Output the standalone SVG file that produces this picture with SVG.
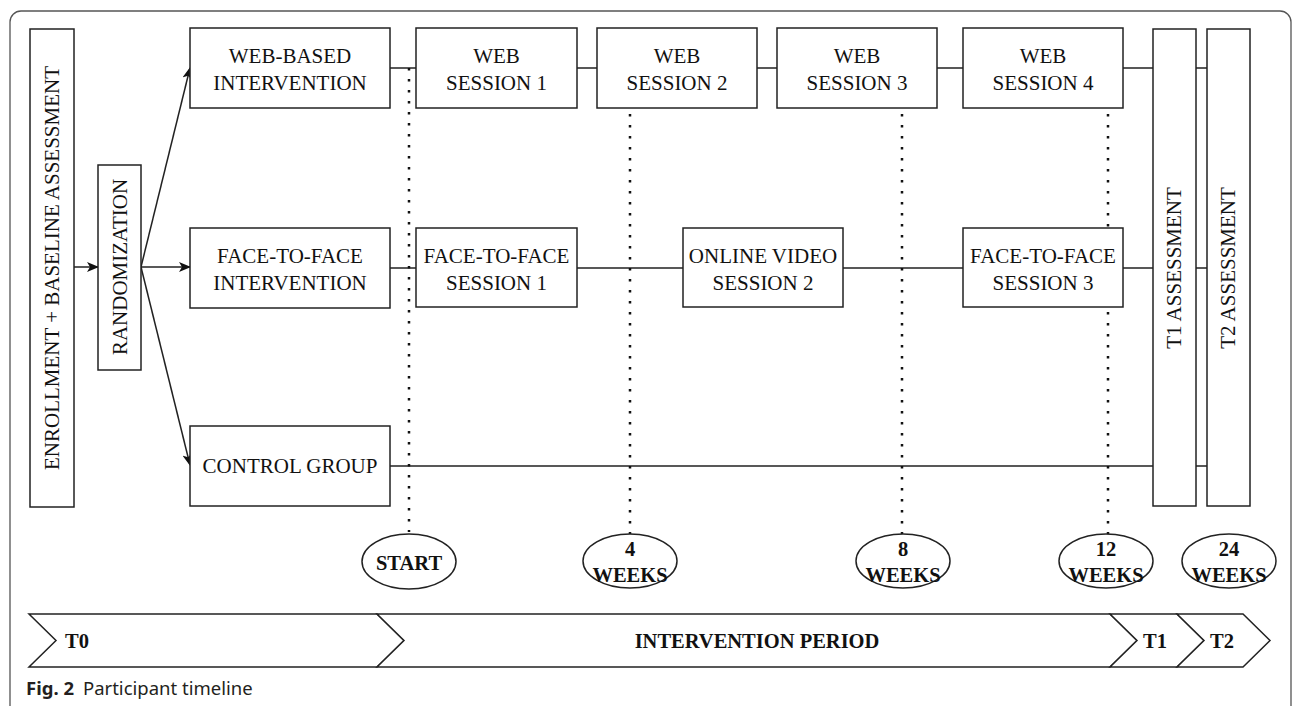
<svg xmlns="http://www.w3.org/2000/svg" width="1292" height="706" viewBox="0 0 1292 706">
<style>
.box{fill:#fff;stroke:#222;stroke-width:1.5}
.ln{fill:none;stroke:#222;stroke-width:1.5}
.dot{fill:none;stroke:#111;stroke-width:2.5;stroke-dasharray:2.5 8.5}
.t{font-family:"Liberation Serif","Times New Roman",serif;font-size:21px;fill:#111;text-anchor:middle}
.b{font-family:"Liberation Serif","Times New Roman",serif;font-size:20.5px;font-weight:bold;fill:#111;text-anchor:middle}
.cap{font-family:"Noto Sans","Open Sans",sans-serif;font-size:18.5px;fill:#231f20}
</style>
<defs>
<marker id="ah" markerWidth="12" markerHeight="10" refX="11" refY="5" orient="auto" markerUnits="userSpaceOnUse">
<path d="M0,0 L12,5 L0,10 L3,5 z" fill="#111"/>
</marker>
</defs>
<rect x="10" y="11" width="1281" height="710" rx="11" fill="#fff" stroke="#555" stroke-width="1.3"/>
<g id="connectors">
<line class="ln" x1="74" y1="267" x2="98" y2="267" marker-end="url(#ah)"/>
<line class="ln" x1="141" y1="267" x2="190" y2="68" marker-end="url(#ah)"/>
<line class="ln" x1="141" y1="267" x2="190" y2="267" marker-end="url(#ah)"/>
<line class="ln" x1="141" y1="267" x2="190" y2="465" marker-end="url(#ah)"/>
<path class="ln" d="M390,68H416M577,68H597M757,68H777M937,68H963M1123,68H1153M1196,68H1207"/>
<path class="ln" d="M390,268H416M577,268H683M843,268H963M1123,268H1153M1196,268H1207"/>
<path class="ln" d="M390,466H1153M1196,466H1207"/>
<line class="dot" x1="409" y1="68" x2="409" y2="532"/>
<line class="dot" x1="630" y1="114" x2="630" y2="534"/>
<line class="dot" x1="902" y1="114" x2="902" y2="534"/>
<line class="dot" x1="1108" y1="114" x2="1108" y2="534"/>
</g>
<g id="enrollment"><rect class="box" x="30" y="29" width="44" height="478"/><text class="t" transform="translate(59,268) rotate(-90)">ENROLLMENT + BASELINE ASSESSMENT</text></g>
<g id="randomization"><rect class="box" x="98" y="165" width="43" height="205"/><text class="t" transform="translate(127,267) rotate(-90)">RANDOMIZATION</text></g>
<g id="web-based"><rect class="box" x="190" y="28" width="200" height="80"/><text class="t" x="290" y="63">WEB-BASED</text><text class="t" x="290" y="90">INTERVENTION</text></g>
<g id="ftf-intervention"><rect class="box" x="190" y="228" width="200" height="80"/><text class="t" x="290" y="263">FACE-TO-FACE</text><text class="t" x="290" y="290">INTERVENTION</text></g>
<g id="control"><rect class="box" x="190" y="426" width="200" height="80"/><text class="t" x="290" y="473">CONTROL GROUP</text></g>
<g id="web1"><rect class="box" x="416" y="28" width="161" height="80"/><text class="t" x="496.5" y="63">WEB</text><text class="t" x="496.5" y="90">SESSION 1</text></g>
<g id="web2"><rect class="box" x="597" y="28" width="160" height="80"/><text class="t" x="677" y="63">WEB</text><text class="t" x="677" y="90">SESSION 2</text></g>
<g id="web3"><rect class="box" x="777" y="28" width="160" height="80"/><text class="t" x="857" y="63">WEB</text><text class="t" x="857" y="90">SESSION 3</text></g>
<g id="web4"><rect class="box" x="963" y="28" width="160" height="80"/><text class="t" x="1043" y="63">WEB</text><text class="t" x="1043" y="90">SESSION 4</text></g>
<g id="ftf1"><rect class="box" x="416" y="228" width="161" height="79"/><text class="t" x="496.5" y="263">FACE-TO-FACE</text><text class="t" x="496.5" y="290">SESSION 1</text></g>
<g id="video2"><rect class="box" x="683" y="228" width="160" height="79"/><text class="t" x="763" y="263">ONLINE VIDEO</text><text class="t" x="763" y="290">SESSION 2</text></g>
<g id="ftf3"><rect class="box" x="963" y="228" width="160" height="79"/><text class="t" x="1043" y="263">FACE-TO-FACE</text><text class="t" x="1043" y="290">SESSION 3</text></g>
<g id="t1-assessment"><rect class="box" x="1153" y="29" width="43" height="477"/><text class="t" transform="translate(1181,268) rotate(-90)">T1 ASSESSMENT</text></g>
<g id="t2-assessment"><rect class="box" x="1207" y="29" width="43" height="477"/><text class="t" transform="translate(1235,268) rotate(-90)">T2 ASSESSMENT</text></g>
<g id="start"><ellipse class="box" cx="409" cy="561.5" rx="47" ry="27.5"/><text class="b" x="409" y="570">START</text></g>
<g id="w4"><ellipse class="box" cx="630" cy="561" rx="47" ry="27"/><text class="b" x="630" y="556">4</text><text class="b" x="630" y="582">WEEKS</text></g>
<g id="w8"><ellipse class="box" cx="903" cy="561" rx="47" ry="27"/><text class="b" x="903" y="556">8</text><text class="b" x="903" y="582">WEEKS</text></g>
<g id="w12"><ellipse class="box" cx="1106" cy="561" rx="47" ry="27"/><text class="b" x="1106" y="556">12</text><text class="b" x="1106" y="582">WEEKS</text></g>
<g id="w24"><ellipse class="box" cx="1229" cy="561" rx="47" ry="27"/><text class="b" x="1229" y="556">24</text><text class="b" x="1229" y="582">WEEKS</text></g>
<g id="band-t0"><polygon class="box" points="29,614 377,614 404,640.5 377,667 29,667 56,640.5"/><text class="b" x="77" y="648">T0</text></g>
<g id="band-intervention"><polygon class="box" points="377,614 1110,614 1137,640.5 1110,667 377,667 404,640.5"/><text class="b" x="757" y="648">INTERVENTION PERIOD</text></g>
<g id="band-t1"><polygon class="box" points="1110,614 1177,614 1204,640.5 1177,667 1110,667 1137,640.5"/><text class="b" x="1155" y="648">T1</text></g>
<g id="band-t2"><polygon class="box" points="1177,614 1243,614 1270,640.5 1243,667 1177,667 1204,640.5"/><text class="b" x="1222" y="648">T2</text></g>
<g id="caption"><text class="cap" x="26" y="695"><tspan font-weight="bold">Fig. 2</tspan><tspan dx="9">Participant timeline</tspan></text></g>
</svg>
